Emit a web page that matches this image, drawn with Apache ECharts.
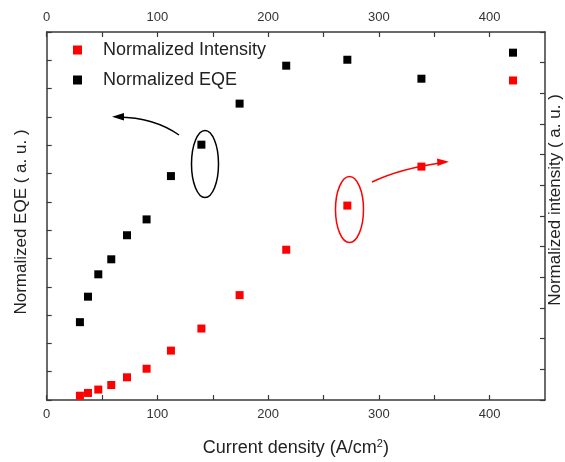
<!DOCTYPE html>
<html><head><meta charset="utf-8">
<script src="https://cdn.jsdelivr.net/npm/echarts@6/dist/echarts.min.js"></script>
<style>html,body{margin:0;padding:0;background:#fff}#c{width:565px;height:462px}</style>
</head><body><div id="c"></div>
<script>
const currentDensity = [30.0, 37.3, 46.6, 58.3, 72.5, 90.2, 112.2, 139.7, 174.2, 216.3, 271.5, 338.4, 421.1];
const normalizedEQE = [2.75, 3.65, 4.44, 4.97, 5.82, 6.38, 7.91, 9.02, 10.47, 11.81, 12.02, 11.35, 12.27];
const normalizedIntensity = [0.14, 0.23, 0.34, 0.49, 0.74, 1.02, 1.61, 2.33, 3.42, 4.90, 6.34, 7.61, 10.42];
const xTickLabels = [0, 100, 200, 300, 400];
const seriesNames = ['Normalized Intensity', 'Normalized EQE'];

const FONT = 'Liberation Sans, Arial, sans-serif';
const AX = '#3a3a3a';
const chart = echarts.init(document.getElementById('c'));

function xLabel(v) { return xTickLabels.indexOf(v) >= 0 ? String(v) : ''; }
const xCommon = {
  type: 'value', min: 0, max: 450, interval: 50,
  axisLine: { show: true, onZero: false, lineStyle: { color: AX, width: 1.5 } },
  axisTick: { show: true, inside: true, length: 5, lineStyle: { color: AX, width: 1.2 } },
  axisLabel: { formatter: xLabel, color: '#333', fontSize: 13, fontFamily: FONT, margin: 8, showMaxLabel: false },
  splitLine: { show: false }
};
const yCommon = {
  type: 'value', min: 0, interval: 1,
  axisLine: { show: true, onZero: false, lineStyle: { color: AX, width: 1.5 } },
  axisTick: { show: true, inside: true, length: 5, lineStyle: { color: AX, width: 1.2 } },
  axisLabel: { show: false },
  splitLine: { show: false },
  nameLocation: 'middle', nameRotate: 90
};

chart.setOption({
  animation: false,
  backgroundColor: '#fff',
  grid: { left: 46.7, right: 20, top: 32, bottom: 62, containLabel: false, outerBoundsMode: 'none' },
  legend: {
    data: seriesNames, orient: 'vertical', left: 68, top: 36, itemGap: 12,
    icon: 'rect', itemWidth: 9, itemHeight: 9,
    textStyle: { color: '#222', fontSize: 18, fontFamily: FONT, padding: [0, 0, 0, 16] }
  },
  xAxis: [
    Object.assign({}, xCommon, {
      position: 'bottom',
      name: 'Current density (A/cm{sup|2})', nameLocation: 'middle', nameGap: 38,
      nameTextStyle: { color: '#222', fontSize: 18, fontFamily: FONT,
        rich: { sup: { fontSize: 11, verticalAlign: 'top', padding: [0, 0, 9, 0], color: '#222', fontFamily: FONT } } }
    }),
    Object.assign({}, xCommon, { position: 'top' })
  ],
  yAxis: [
    Object.assign({}, yCommon, { position: 'left', max: 13, name: 'Normalized EQE ( a. u. )', nameGap: 17,
      nameTextStyle: { color: '#222', fontSize: 17, fontFamily: FONT, padding: [0, 12, 0, 0] } }),
    Object.assign({}, yCommon, { position: 'right', max: 12, name: 'Normalized intensity ( a. u. )', nameGap: 2,
      nameTextStyle: { color: '#222', fontSize: 17, fontFamily: FONT, padding: [0, 0, 0, 32] } })
  ],
  series: [
    { name: seriesNames[0], type: 'scatter', xAxisIndex: 0, yAxisIndex: 1, symbol: 'rect', symbolSize: 8,
      itemStyle: { color: '#ff0000', opacity: 1 }, data: currentDensity.map((x, i) => [x, normalizedIntensity[i]]) },
    { name: seriesNames[1], type: 'scatter', xAxisIndex: 0, yAxisIndex: 0, symbol: 'rect', symbolSize: 8,
      itemStyle: { color: '#000', opacity: 1 }, data: currentDensity.map((x, i) => [x, normalizedEQE[i]]) }
  ],
  graphic: [
    { type: 'ellipse', shape: { cx: 205, cy: 164, rx: 13.5, ry: 33.5 }, style: { fill: 'none', stroke: '#000', lineWidth: 1.5 } },
    { type: 'bezierCurve', shape: { x1: 179, y1: 135, cpx1: 154, cpy1: 117.5, x2: 118, y2: 117 }, style: { fill: 'none', stroke: '#000', lineWidth: 1.5 } },
    { type: 'polygon', shape: { points: [[112, 116.7], [124, 113], [124, 120.5]] }, style: { fill: '#000' } },
    { type: 'ellipse', shape: { cx: 349.5, cy: 209.5, rx: 14, ry: 33 }, style: { fill: 'none', stroke: '#ff0000', lineWidth: 1.5 } },
    { type: 'bezierCurve', shape: { x1: 372, y1: 182, cpx1: 400, cpy1: 168.6, x2: 443, y2: 162.5 }, style: { fill: 'none', stroke: '#ff0000', lineWidth: 1.5 } },
    { type: 'polygon', shape: { points: [[449, 161.8], [437, 158.5], [437.5, 166]] }, style: { fill: '#ff0000' } }
  ]
});
</script></body></html>
